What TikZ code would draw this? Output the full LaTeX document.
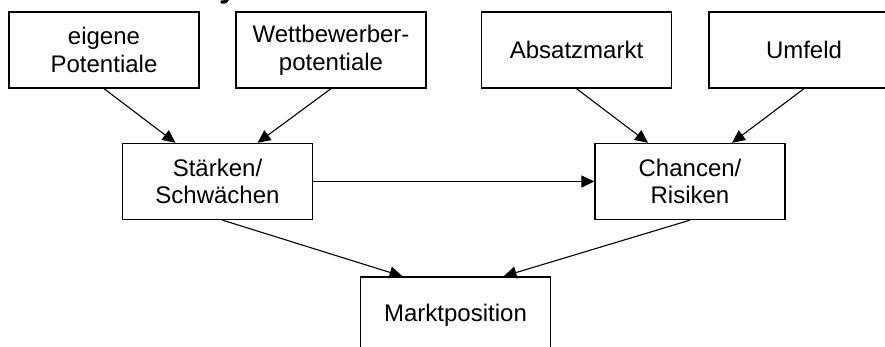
\documentclass[tikz,border=0pt]{standalone}
\usepackage{fontspec}
\setmainfont{Liberation Sans}
\usetikzlibrary{arrows.meta,calc}
\begin{document}
\begin{tikzpicture}[x=1pt,y=-1pt,
  box/.style={draw, line width=1.3pt, minimum width=190pt, minimum height=76pt,
    align=center, inner sep=0pt, font=\fontsize{24}{27.6}\selectfont},
  conn/.style={line width=1.1pt, -{Triangle[length=13pt,width=12pt]}}]
\useasboundingbox (0,0) rectangle (885,347);
\node[anchor=base west, inner sep=0pt, font=\bfseries\fontsize{32}{32}\selectfont] (title) at (219,-2.7) {y};
\node[box] (b1) at (104,50) {eigene\\Potentiale};
\node[box] (b2) at (331,50) {Wettbewerber-\\potentiale};
\node[box] (b3) at (576.5,50) {Absatzmarkt};
\node[box] (b4) at (804,50) {Umfeld};
\node[box] (st) at (217.5,181.5) {Stärken/\\Schwächen};
\node[box] (ch) at (690,181.5) {Chancen/\\Risiken};
\node[box] (mp) at (455.5,315) {Marktposition};
\draw[conn] (b1.south) -- ($(st.north)+(-42,0)$);
\draw[conn] (b2.south) -- ($(st.north)+(40,0)$);
\draw[conn] (b3.south) -- ($(ch.north)+(-42,0)$);
\draw[conn] (b4.south) -- ($(ch.north)+(42,0)$);
\draw[conn] (st.east) -- (ch.west);
\draw[conn] ($(st.south)+(5,0)$) -- ($(mp.north)+(-53,0)$);
\draw[conn] (ch.south) -- ($(mp.north)+(48,0)$);
\end{tikzpicture}
\end{document}
